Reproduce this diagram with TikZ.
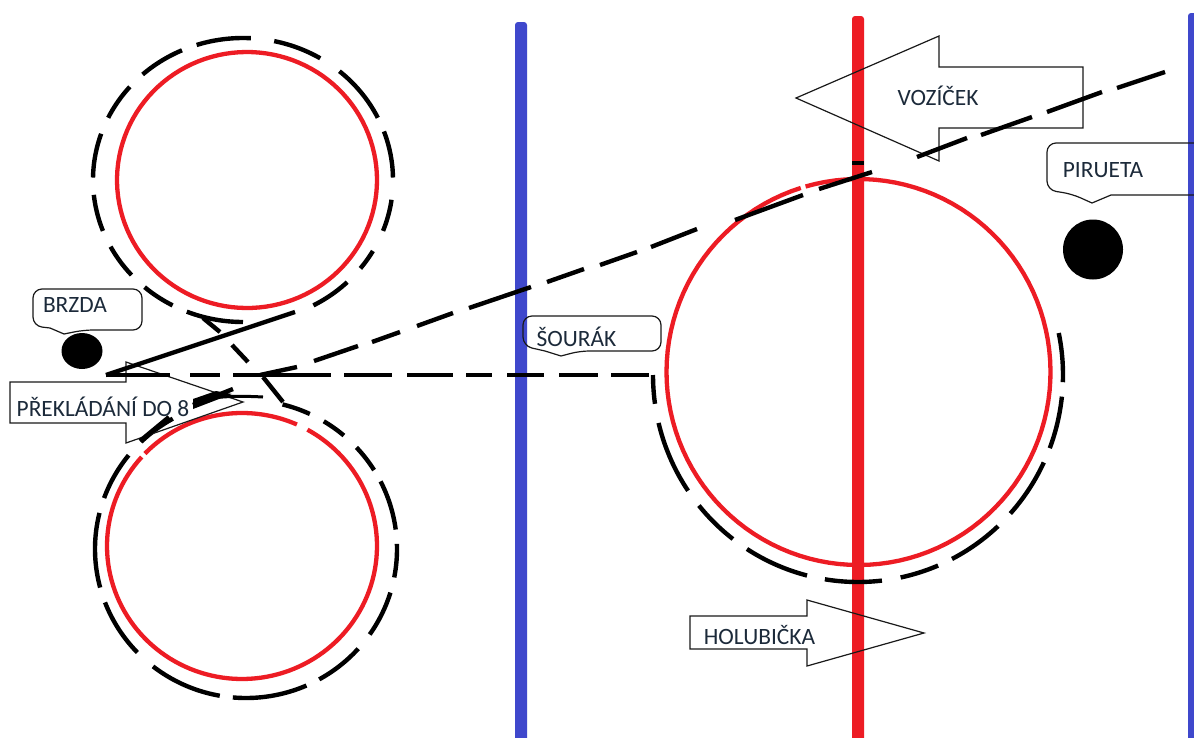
\documentclass[tikz,border=0pt]{standalone}
\usepackage{fontspec}
\usetikzlibrary{shapes.geometric}
\setmainfont{Carlito}
\definecolor{railblue}{HTML}{3F48CC}
\definecolor{railred}{HTML}{ED1C24}
\definecolor{inktext}{HTML}{1C2A3A}
\tikzset{
  rail/.style={rounded corners=3pt},
  ring/.style={draw=railred,line width=4.3pt},
  pathink/.style={draw=black,line width=4.4pt,line cap=butt},
  outline/.style={draw=black!90,line width=1.2pt,line join=miter},
  bubble/.style={draw=black!90,line width=1.2pt,rounded corners=9pt},
  tag/.style={text=inktext,inner sep=0pt,font=\fontsize{23.4}{27}\selectfont},
  dot/.style={fill=black,draw=none,ellipse,inner sep=0pt}
}
\newcommand{\ringseg}[7][ring]{%
  \draw[#1] plot[domain=#6:#7,samples=120] ({#2+#4*cos(\x)},{#3-#5*sin(\x)});}
\begin{document}
\begin{tikzpicture}[x=1pt,y=-1pt]
\useasboundingbox (0,0) rectangle (1194,737);
\fill[white] (0,0) rectangle (1194,737);
% rails
\fill[railblue,rail] (515,22) rectangle (527,745);
\fill[railblue,rail] (1188,13) rectangle (1200,745);
\fill[railred,rail] (852,16) rectangle (864,745);
% red rings
\ringseg{247}{180}{130}{128}{0}{360}
\ringseg{242}{546}{135}{133}{66}{136}
\ringseg{242}{546}{135}{133}{138}{421}
\ringseg{858.5}{372}{192}{193}{107.5}{466}
% black rings
\foreach \a/\b in {87/108,59/78,26/50,1/20,-21/-8,-38.5/-30,-62/-46,-112/-90,-131/-118,-152/-138,-174/-159,161/179,139/154,114/132}
  {\ringseg[pathink]{243}{180}{150}{142}{\a}{\b}}
\foreach \a/\b in {65/76,49.6/59,32/43,7.5/27,-11/2,-35/-17,-61/-42,-95/-66.4,-128/-100,-159/-136,166/195,141/160,119/134}
  {\ringseg[pathink]{246}{549}{151}{149}{\a}{\b}}
\foreach \a/\b in {-2/11.7,-20.7/-6,-42/-25,-62.7/-46.9,-78/-67,-99.3/-83.3,-122.8/-104.4,-140.9/-127.6,-166.6/-146,-180/-172}
  {\ringseg[pathink]{858}{375}{205}{207}{\a}{\b}}
% dots
\node[dot,minimum width=41pt,minimum height=36pt] (brzdadot) at (82,351) {};
\node[dot,minimum width=60pt,minimum height=60pt] (piruetadot) at (1093,249.5) {};
% block arrows (outline only)
\draw[outline] (796,98) -- (939,36) -- (939,67) -- (1083,67) -- (1083,128) -- (939,128) -- (939,161) -- cycle;
\draw[outline] (690,616) -- (807,616) -- (807,600) -- (924,633) -- (807,666) -- (807,649) -- (690,649) -- cycle;
\draw[outline] (10,382) -- (126,382) -- (126,362) -- (243,402) -- (126,443) -- (126,423) -- (10,423) -- cycle;
% callouts
\draw[bubble] (33,289) -- (142,289) -- (142,330) -- (84,330) [sharp corners] -- (64,334) -- (50,328) [rounded corners=9pt] -- (33,326) -- cycle;
\draw[bubble] (523,316) -- (661,316) -- (661,351) -- (580,351) [sharp corners] -- (561,356) -- (545,351) [rounded corners=9pt] -- (523,346) -- cycle;
\draw[bubble] (1194,143) -- (1047,143) -- (1047,190) -- (1072,194) [sharp corners] -- (1092,203) -- (1111,195) -- (1194,195);
% black connector strokes
\coordinate (hub) at (106,375);
\coordinate (solidend) at (295,312);
\coordinate (hdash) at (170,375);
\draw[pathink] (hub) -- (solidend);
\draw[pathink] (hub) -- (hdash);
\foreach \a/\b in {190/220,233/331,344/392,407/453,466/492,507/544,559/598,611/649}
  {\draw[pathink] (\a,375) -- (\b,375);}
\foreach \a/\b/\c/\d in {260/375/297/367,314/361/358/346,372/342/400/332,417/326/453/313,469/308/531/287,547/282/584/269,600/265/637/252,651/247/697/229,735/220/803/195,819/189/872/172,917/157/967/138,981/135/1032/117,1047/112/1102/92,1117/88/1165/72}
  {\draw[pathink] (\a,\b) -- (\c,\d);}
\foreach \a/\b/\c/\d in {203/318/220/332,232/345/248/362,263/377/283/402}
  {\draw[pathink] (\a,\b) -- (\c,\d);}
\draw[pathink] (852,163) -- (864,163);
\draw[pathink] (193,405) -- (233,389);
\fill[black] (193,399) -- (216,391) -- (232,394) -- (193,409) -- cycle;
\draw[pathink,line width=3pt] (213,398) .. controls (228,396) and (245,396) .. (263,397);
\draw[pathink] (140,441) -- (169,417);
% labels
\node[tag] (brzda) at (75,305) {BRZDA};
\node[tag] (sourak) at (576.5,337) {ŠOURÁK};
\node[tag] (pirueta) at (1103,170) {PIRUETA};
\node[tag] (vozicek) at (938,96) {VOZÍČEK};
\node[tag] (prekladani) at (103,407) {PŘEKLÁDÁNÍ DO 8};
\node[tag] (holubicka) at (759.5,635) {HOLUBIČKA};
\end{tikzpicture}
\end{document}
